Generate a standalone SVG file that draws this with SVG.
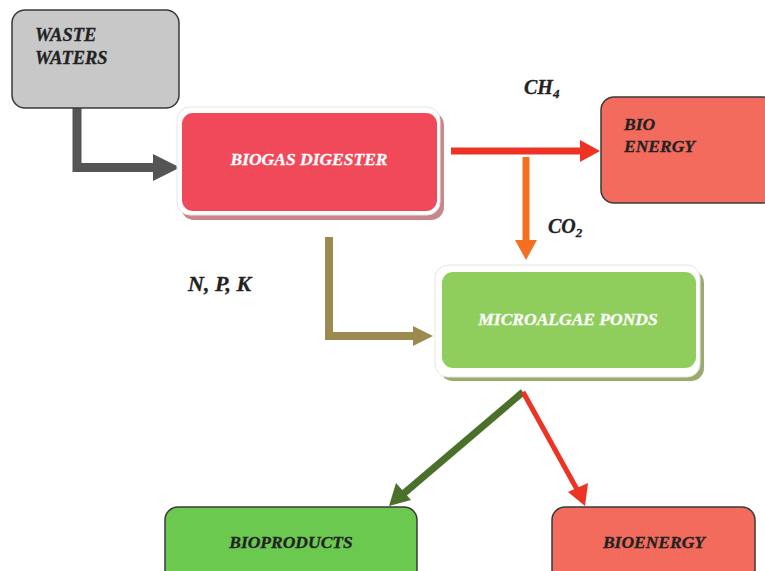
<svg xmlns="http://www.w3.org/2000/svg" width="765" height="571" viewBox="0 0 765 571">
<style>
.t{font-family:"Liberation Serif",serif;font-weight:bold;font-style:italic;font-size:17.5px;fill:#222;stroke:#222;stroke-width:0.3}
.w{fill:#fff;stroke:#fff}
.lbl{font-size:20px}
.npk{font-size:22px}
.ww{font-size:18.5px}
.sub{font-size:13px}
.box{stroke:#3a3a3a;stroke-width:1.5}
</style>
<rect width="765" height="571" fill="#fff"/>
<g id="connectors">
  <path d="M77,108 V167.5 H156" fill="none" stroke="#555" stroke-width="9"/>
  <polygon points="153,154 180,167.5 153,181" fill="#555"/>
  <path d="M451,151 H582" fill="none" stroke="#ee3224" stroke-width="7"/>
  <polygon points="580,140 600,151 580,162" fill="#ee3224"/>
  <path d="M526,157 V242" fill="none" stroke="#f37021" stroke-width="7"/>
  <polygon points="515,240 537,240 526,260" fill="#f37021"/>
  <path d="M329,237 V336 H415" fill="none" stroke="#9c8a50" stroke-width="8"/>
  <polygon points="413,326 433,336 413,346" fill="#9c8a50"/>
  <path d="M523,392 L402,495" fill="none" stroke="#4a7029" stroke-width="7"/>
  <polygon points="389,506 396,483 411,500" fill="#4a7029"/>
  <path d="M523,392 L579,493" fill="none" stroke="#ee3224" stroke-width="5"/>
  <polygon points="585,506 568,492 588,483" fill="#ee3224"/>
</g>
<g id="waste-waters">
  <rect class="box" x="12" y="10" width="167" height="98" rx="13" fill="#c8c8c8"/>
  <text class="t ww" x="35" y="41">WASTE</text>
  <text class="t ww" x="35" y="64">WATERS</text>
</g>
<g id="biogas-digester">
  <rect x="181" y="112" width="263" height="108" rx="13" fill="#c9878c"/>
  <rect x="177" y="107" width="263" height="108" rx="13" fill="#fff" stroke="#e6e6e6" stroke-width="1"/>
  <rect x="182" y="113" width="255" height="98" rx="11" fill="#f04a5a"/>
  <text class="t w" x="309" y="165" text-anchor="middle">BIOGAS DIGESTER</text>
</g>
<g id="ch4-label">
  <text class="t lbl" x="524" y="94">CH<tspan class="sub" dy="4">4</tspan></text>
</g>
<g id="co2-label">
  <text class="t lbl" x="548" y="233">CO<tspan class="sub" dy="4">2</tspan></text>
</g>
<g id="npk-label">
  <text class="t npk" x="188" y="291">N, P, K</text>
</g>
<g id="bio-energy">
  <rect class="box" x="601" y="97" width="175" height="106" rx="13" fill="#f26b5c"/>
  <text class="t" x="624" y="130">BIO</text>
  <text class="t" x="624" y="152">ENERGY</text>
</g>
<g id="microalgae-ponds">
  <rect x="440" y="270" width="264" height="111" rx="13" fill="#9bab70"/>
  <rect x="435" y="265" width="265" height="112" rx="13" fill="#fff" stroke="#e6e6e6" stroke-width="1"/>
  <rect x="442" y="272" width="254" height="96" rx="11" fill="#8fce5c"/>
  <text class="t w" x="568" y="325" text-anchor="middle">MICROALGAE PONDS</text>
</g>
<g id="bioproducts">
  <rect class="box" x="165" y="507" width="252" height="80" rx="13" fill="#6cc950"/>
  <text class="t" x="291" y="548" text-anchor="middle">BIOPRODUCTS</text>
</g>
<g id="bioenergy">
  <rect class="box" x="552" y="507" width="203" height="80" rx="13" fill="#f26b5c"/>
  <text class="t" x="654" y="548" text-anchor="middle">BIOENERGY</text>
</g>
</svg>
